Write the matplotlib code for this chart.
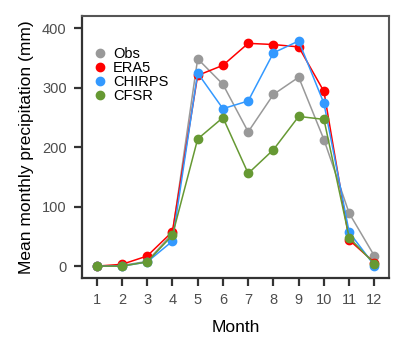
import matplotlib
matplotlib.use("Agg")
import matplotlib.pyplot as plt

months = list(range(1, 13))
obs = [0, 1, 8, 55, 349, 306, 226, 289, 318, 213, 89, 17]
era5 = [0, 3, 17, 58, 321, 338, 375, 373, 369, 294, 44, 6]
chirps = [0, 0, 7, 42, 325, 265, 278, 359, 379, 274, 57, 1]
cfsr = [0, 0, 7, 52, 214, 250, 156, 196, 252, 247, 48, 4]

series = [("Obs", obs, "#999999"), ("ERA5", era5, "#FF0000"),
          ("CHIRPS", chirps, "#3399FF"), ("CFSR", cfsr, "#669933")]

plt.rcParams['font.family'] = ['Liberation Sans', 'DejaVu Sans']
fig = plt.figure(figsize=(4.07, 3.52), dpi=100)
ax = fig.add_axes([0.2015, 0.2102, 0.7545, 0.7443])
for name, vals, col in series:
    ax.plot(months, vals, color=col, lw=1.1, marker='o', ms=6, label=name)

ax.set_xlim(0.42, 12.58)
ax.set_ylim(-20, 421)
ax.set_xticks(months)
ax.set_yticks([0, 100, 200, 300, 400])
ax.tick_params(direction='out', length=6, width=1.6, color='#333333', labelcolor='#4d4d4d', labelsize=10.5, pad=5)
for s in ['left', 'bottom']:
    ax.spines[s].set_linewidth(1.6)
    ax.spines[s].set_color('#333333')
for s in ['top', 'right']:
    ax.spines[s].set_linewidth(1.5)
    ax.spines[s].set_color('#555555')
ax.set_xlabel('Month', fontsize=12.5, labelpad=9)
ax.set_ylabel('Mean monthly precipitation (mm)', fontsize=12.5, labelpad=6)
leg = ax.legend(loc='upper left', bbox_to_anchor=(0.025, 0.905), frameon=False, fontsize=10.5,
                handlelength=0.6, handletextpad=0.6, labelspacing=0.0, borderaxespad=0)
for h in leg.legend_handles:
    h.set_linestyle('None')
fig.savefig('out.png', dpi=100)
